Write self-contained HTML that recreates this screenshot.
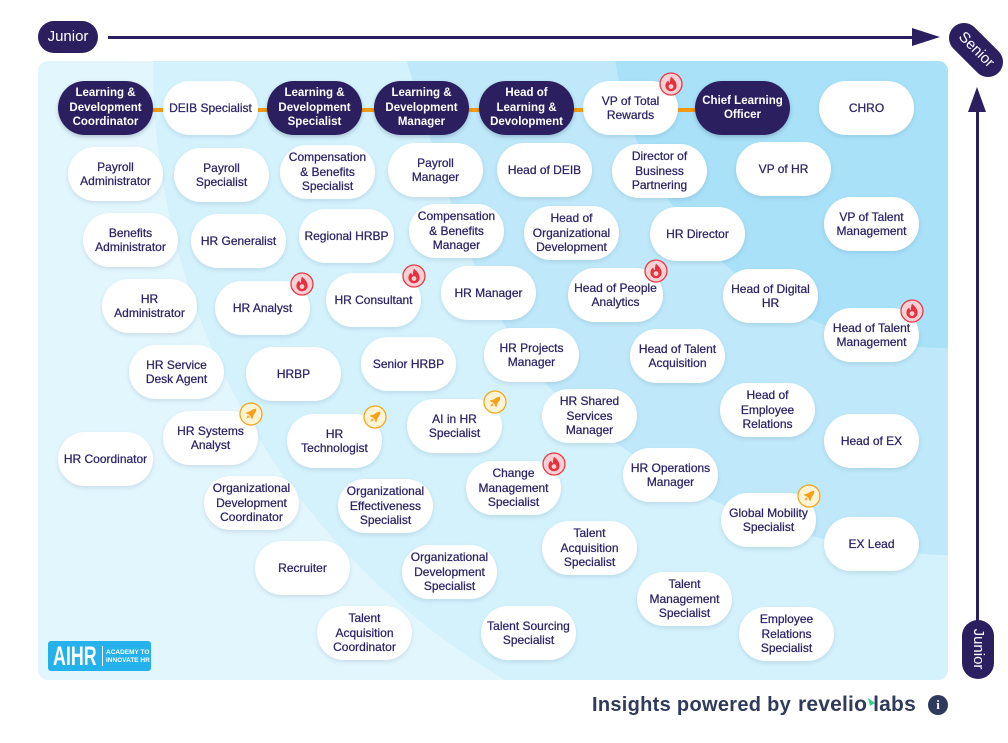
<!DOCTYPE html>
<html><head><meta charset="utf-8">
<style>
*{margin:0;padding:0;box-sizing:border-box}
html,body{width:1008px;height:743px;background:#fff;overflow:hidden;font-family:"Liberation Sans",Arial,sans-serif}
.abs{position:absolute}
.panel{position:absolute;left:38px;top:61px;width:910px;height:619px;border-radius:10px;overflow:hidden}
.p{position:absolute;width:95px;height:54px;border-radius:27px;background:#fff;display:flex;align-items:center;justify-content:center;text-align:center;font-size:12px;line-height:14.5px;color:#2c2366;-webkit-text-stroke:0.25px #2c2366;box-shadow:0 2px 4px rgba(40,70,110,0.13);z-index:2}
.d{background:#2b1f60;color:#fff;-webkit-text-stroke:0;font-weight:bold;font-size:11.5px;box-shadow:0 2px 4px rgba(20,20,60,0.22)}
.ic{position:absolute;width:24px;height:24px;z-index:3}
</style></head><body>

<!-- header -->
<div class="abs" style="left:38px;top:21px;width:60px;height:32px;border-radius:16px;background:#2b1f60;color:#fff;font-size:15px;line-height:32px;text-align:center">Junior</div>
<div class="abs" style="left:108px;top:36px;width:808px;height:3px;background:#2b1f60"></div>
<svg class="abs" style="left:0;top:0" width="1008" height="743">
 <polygon points="912,28 940,37 912,46" fill="#2b1f60"/>
 <polygon points="977,87 968,112 986,112" fill="#2b1f60"/>
 <rect x="976" y="110" width="3" height="512" fill="#2b1f60"/>
</svg>
<div class="abs" style="left:944px;top:35px;width:64px;height:30px;border-radius:15px;background:#2b1f60;color:#fff;font-size:15px;line-height:30px;text-align:center;transform:rotate(45deg)">Senior</div>
<div class="abs" style="left:962px;top:620px;width:32px;height:59px;border-radius:16px;background:#2b1f60"></div>
<div class="abs" style="left:948px;top:634px;width:60px;height:30px;color:#fff;font-size:15px;line-height:30px;text-align:center;transform:rotate(90deg)">Junior</div>

<!-- panel background -->
<div class="panel">
<svg width="910" height="619" viewBox="38 61 910 619">
 <rect x="38" y="61" width="910" height="619" fill="#e2f6fd"/>
 <circle cx="868" cy="64" r="715" fill="#d3f2fc"/>
 <path d="M405,55 C440,170 470,290 540,378 C600,440 680,490 760,520 C830,545 890,553 960,556 L960,55 Z" fill="#bfe9fa"/>
 <circle cx="946" cy="14" r="334" fill="#a8e1f8"/>
</svg>
</div>

<!-- connector -->
<div class="abs" style="left:105px;top:108px;width:640px;height:4px;background:#f39a12;z-index:1"></div>

<!-- row 1 -->
<div class="p d" style="left:58px;top:81px">Learning &amp;<br>Development<br>Coordinator</div>
<div class="p" style="left:163px;top:81px">DEIB Specialist</div>
<div class="p d" style="left:267px;top:81px">Learning &amp;<br>Development<br>Specialist</div>
<div class="p d" style="left:374px;top:81px">Learning &amp;<br>Development<br>Manager</div>
<div class="p d" style="left:479px;top:81px">Head of<br>Learning &amp;<br>Devolopment</div>
<div class="p" style="left:583px;top:81px">VP of Total<br>Rewards</div>
<div class="p d" style="left:695px;top:81px">Chief Learning<br>Officer</div>
<div class="p" style="left:819px;top:81px">CHRO</div>

<!-- row 2 -->
<div class="p" style="left:68px;top:147px">Payroll<br>Administrator</div>
<div class="p" style="left:174px;top:148px">Payroll<br>Specialist</div>
<div class="p" style="left:280px;top:145px">Compensation<br>&amp; Benefits<br>Specialist</div>
<div class="p" style="left:388px;top:143px">Payroll<br>Manager</div>
<div class="p" style="left:497px;top:143px">Head of DEIB</div>
<div class="p" style="left:612px;top:144px">Director of<br>Business<br>Partnering</div>
<div class="p" style="left:736px;top:142px">VP of HR</div>

<!-- row 3 -->
<div class="p" style="left:83px;top:213px">Benefits<br>Administrator</div>
<div class="p" style="left:191px;top:214px">HR Generalist</div>
<div class="p" style="left:299px;top:209px">Regional HRBP</div>
<div class="p" style="left:409px;top:204px">Compensation<br>&amp; Benefits<br>Manager</div>
<div class="p" style="left:524px;top:206px">Head of<br>Organizational<br>Development</div>
<div class="p" style="left:650px;top:207px">HR Director</div>
<div class="p" style="left:824px;top:197px">VP of Talent<br>Management</div>

<!-- row 4 -->
<div class="p" style="left:102px;top:279px">HR<br>Administrator</div>
<div class="p" style="left:215px;top:281px">HR Analyst</div>
<div class="p" style="left:326px;top:273px">HR Consultant</div>
<div class="p" style="left:441px;top:266px">HR Manager</div>
<div class="p" style="left:568px;top:268px">Head of People<br>Analytics</div>
<div class="p" style="left:723px;top:269px">Head of Digital<br>HR</div>
<div class="p" style="left:824px;top:308px">Head of Talent<br>Management</div>

<!-- row 5 -->
<div class="p" style="left:129px;top:345px">HR Service<br>Desk Agent</div>
<div class="p" style="left:246px;top:347px">HRBP</div>
<div class="p" style="left:361px;top:337px">Senior HRBP</div>
<div class="p" style="left:484px;top:328px">HR Projects<br>Manager</div>
<div class="p" style="left:630px;top:329px">Head of Talent<br>Acquisition</div>

<!-- row 6 -->
<div class="p" style="left:163px;top:411px">HR Systems<br>Analyst</div>
<div class="p" style="left:287px;top:414px">HR<br>Technologist</div>
<div class="p" style="left:407px;top:399px">AI in HR<br>Specialist</div>
<div class="p" style="left:542px;top:389px">HR Shared<br>Services<br>Manager</div>
<div class="p" style="left:720px;top:383px">Head of<br>Employee<br>Relations</div>
<div class="p" style="left:824px;top:414px">Head of EX</div>

<!-- row 7 -->
<div class="p" style="left:58px;top:432px">HR Coordinator</div>
<div class="p" style="left:204px;top:476px">Organizational<br>Development<br>Coordinator</div>
<div class="p" style="left:338px;top:479px">Organizational<br>Effectiveness<br>Specialist</div>
<div class="p" style="left:466px;top:461px">Change<br>Management<br>Specialist</div>
<div class="p" style="left:623px;top:448px">HR Operations<br>Manager</div>
<div class="p" style="left:721px;top:493px">Global Mobility<br>Specialist</div>
<div class="p" style="left:824px;top:517px">EX Lead</div>

<!-- row 8 -->
<div class="p" style="left:255px;top:541px">Recruiter</div>
<div class="p" style="left:402px;top:545px">Organizational<br>Development<br>Specialist</div>
<div class="p" style="left:542px;top:521px">Talent<br>Acquisition<br>Specialist</div>
<div class="p" style="left:637px;top:572px">Talent<br>Management<br>Specialist</div>
<div class="p" style="left:739px;top:607px">Employee<br>Relations<br>Specialist</div>
<div class="p" style="left:317px;top:606px">Talent<br>Acquisition<br>Coordinator</div>
<div class="p" style="left:481px;top:606px">Talent Sourcing<br>Specialist</div>

<!-- fire icons -->
<svg class="ic" style="left:659px;top:72px" viewBox="0 0 24 24"><circle cx="12" cy="12" r="11" fill="#fbd0d4" stroke="#e63a46" stroke-width="1.3"/><path d="M12 4.8 C15 7.5 17.6 10 17.6 13.7 A5.6 5.6 0 0 1 6.4 13.7 C6.4 11.5 7.5 9.8 9.3 8.4 C9.4 10 10 10.9 10.9 11.2 C10.9 9.2 11.1 7 12 4.8Z" fill="#e5313d"/><circle cx="12" cy="14.6" r="2.4" fill="#fbd0d4"/></svg>
<svg class="ic" style="left:290px;top:272px" viewBox="0 0 24 24"><circle cx="12" cy="12" r="11" fill="#fbd0d4" stroke="#e63a46" stroke-width="1.3"/><path d="M12 4.8 C15 7.5 17.6 10 17.6 13.7 A5.6 5.6 0 0 1 6.4 13.7 C6.4 11.5 7.5 9.8 9.3 8.4 C9.4 10 10 10.9 10.9 11.2 C10.9 9.2 11.1 7 12 4.8Z" fill="#e5313d"/><circle cx="12" cy="14.6" r="2.4" fill="#fbd0d4"/></svg>
<svg class="ic" style="left:402px;top:264px" viewBox="0 0 24 24"><circle cx="12" cy="12" r="11" fill="#fbd0d4" stroke="#e63a46" stroke-width="1.3"/><path d="M12 4.8 C15 7.5 17.6 10 17.6 13.7 A5.6 5.6 0 0 1 6.4 13.7 C6.4 11.5 7.5 9.8 9.3 8.4 C9.4 10 10 10.9 10.9 11.2 C10.9 9.2 11.1 7 12 4.8Z" fill="#e5313d"/><circle cx="12" cy="14.6" r="2.4" fill="#fbd0d4"/></svg>
<svg class="ic" style="left:644px;top:259px" viewBox="0 0 24 24"><circle cx="12" cy="12" r="11" fill="#fbd0d4" stroke="#e63a46" stroke-width="1.3"/><path d="M12 4.8 C15 7.5 17.6 10 17.6 13.7 A5.6 5.6 0 0 1 6.4 13.7 C6.4 11.5 7.5 9.8 9.3 8.4 C9.4 10 10 10.9 10.9 11.2 C10.9 9.2 11.1 7 12 4.8Z" fill="#e5313d"/><circle cx="12" cy="14.6" r="2.4" fill="#fbd0d4"/></svg>
<svg class="ic" style="left:900px;top:299px" viewBox="0 0 24 24"><circle cx="12" cy="12" r="11" fill="#fbd0d4" stroke="#e63a46" stroke-width="1.3"/><path d="M12 4.8 C15 7.5 17.6 10 17.6 13.7 A5.6 5.6 0 0 1 6.4 13.7 C6.4 11.5 7.5 9.8 9.3 8.4 C9.4 10 10 10.9 10.9 11.2 C10.9 9.2 11.1 7 12 4.8Z" fill="#e5313d"/><circle cx="12" cy="14.6" r="2.4" fill="#fbd0d4"/></svg>
<svg class="ic" style="left:542px;top:452px" viewBox="0 0 24 24"><circle cx="12" cy="12" r="11" fill="#fbd0d4" stroke="#e63a46" stroke-width="1.3"/><path d="M12 4.8 C15 7.5 17.6 10 17.6 13.7 A5.6 5.6 0 0 1 6.4 13.7 C6.4 11.5 7.5 9.8 9.3 8.4 C9.4 10 10 10.9 10.9 11.2 C10.9 9.2 11.1 7 12 4.8Z" fill="#e5313d"/><circle cx="12" cy="14.6" r="2.4" fill="#fbd0d4"/></svg>

<!-- rocket icons -->
<svg class="ic" style="left:239px;top:402px" viewBox="0 0 24 24"><circle cx="12" cy="12" r="11" fill="#fff3d6" stroke="#f6a61c" stroke-width="1.3"/><g transform="rotate(45 12 12)" fill="#f6a01a"><path d="M12 4.5 C14.2 6.5 14.8 9.5 14.5 14 L9.5 14 C9.2 9.5 9.8 6.5 12 4.5Z"/><path d="M9.6 10.5 L7.3 14.8 L9.8 14.8Z"/><path d="M14.4 10.5 L16.7 14.8 L14.2 14.8Z"/><path d="M10.6 15 L13.4 15 L12 18.5Z"/></g></svg>
<svg class="ic" style="left:363px;top:405px" viewBox="0 0 24 24"><circle cx="12" cy="12" r="11" fill="#fff3d6" stroke="#f6a61c" stroke-width="1.3"/><g transform="rotate(45 12 12)" fill="#f6a01a"><path d="M12 4.5 C14.2 6.5 14.8 9.5 14.5 14 L9.5 14 C9.2 9.5 9.8 6.5 12 4.5Z"/><path d="M9.6 10.5 L7.3 14.8 L9.8 14.8Z"/><path d="M14.4 10.5 L16.7 14.8 L14.2 14.8Z"/><path d="M10.6 15 L13.4 15 L12 18.5Z"/></g></svg>
<svg class="ic" style="left:483px;top:390px" viewBox="0 0 24 24"><circle cx="12" cy="12" r="11" fill="#fff3d6" stroke="#f6a61c" stroke-width="1.3"/><g transform="rotate(45 12 12)" fill="#f6a01a"><path d="M12 4.5 C14.2 6.5 14.8 9.5 14.5 14 L9.5 14 C9.2 9.5 9.8 6.5 12 4.5Z"/><path d="M9.6 10.5 L7.3 14.8 L9.8 14.8Z"/><path d="M14.4 10.5 L16.7 14.8 L14.2 14.8Z"/><path d="M10.6 15 L13.4 15 L12 18.5Z"/></g></svg>
<svg class="ic" style="left:797px;top:484px" viewBox="0 0 24 24"><circle cx="12" cy="12" r="11" fill="#fff3d6" stroke="#f6a61c" stroke-width="1.3"/><g transform="rotate(45 12 12)" fill="#f6a01a"><path d="M12 4.5 C14.2 6.5 14.8 9.5 14.5 14 L9.5 14 C9.2 9.5 9.8 6.5 12 4.5Z"/><path d="M9.6 10.5 L7.3 14.8 L9.8 14.8Z"/><path d="M14.4 10.5 L16.7 14.8 L14.2 14.8Z"/><path d="M10.6 15 L13.4 15 L12 18.5Z"/></g></svg>

<!-- AIHR logo -->
<div class="abs" style="left:48px;top:641px;width:103px;height:30px;background:#25b1ec;border-radius:3px;z-index:2">
 <div class="abs" style="left:5px;top:1px;font-size:27px;line-height:28px;font-weight:bold;color:#fff;transform:scaleX(0.66);transform-origin:left top;white-space:nowrap">AIHR</div>
 <div class="abs" style="left:54px;top:5px;width:1px;height:20px;background:#fff"></div>
 <div class="abs" style="left:58px;top:8px;font-size:6.5px;line-height:7.5px;font-weight:bold;color:#fff;white-space:nowrap">ACADEMY TO<br>INNOVATE HR</div>
</div>

<!-- footer -->
<div class="abs" style="left:592px;top:692px;font-size:20px;line-height:26px;font-weight:bold;color:#2f3a5c;white-space:nowrap;letter-spacing:0.3px">Insights powered by</div>
<div class="abs" style="left:798px;top:692px;font-size:21px;line-height:26px;font-weight:bold;color:#2f3a5c;white-space:nowrap;letter-spacing:0.2px">revelio labs</div>
<svg class="abs" style="left:868px;top:698px" width="8" height="9"><polygon points="0,0 7,5 2,8" fill="#2fd18a"/></svg>
<div class="abs" style="left:928px;top:695px;width:20px;height:20px;border-radius:10px;background:#2f3a5c;color:#fff;font-size:13px;line-height:20px;font-weight:bold;text-align:center;font-family:'Liberation Serif',serif">i</div>

</body></html>
